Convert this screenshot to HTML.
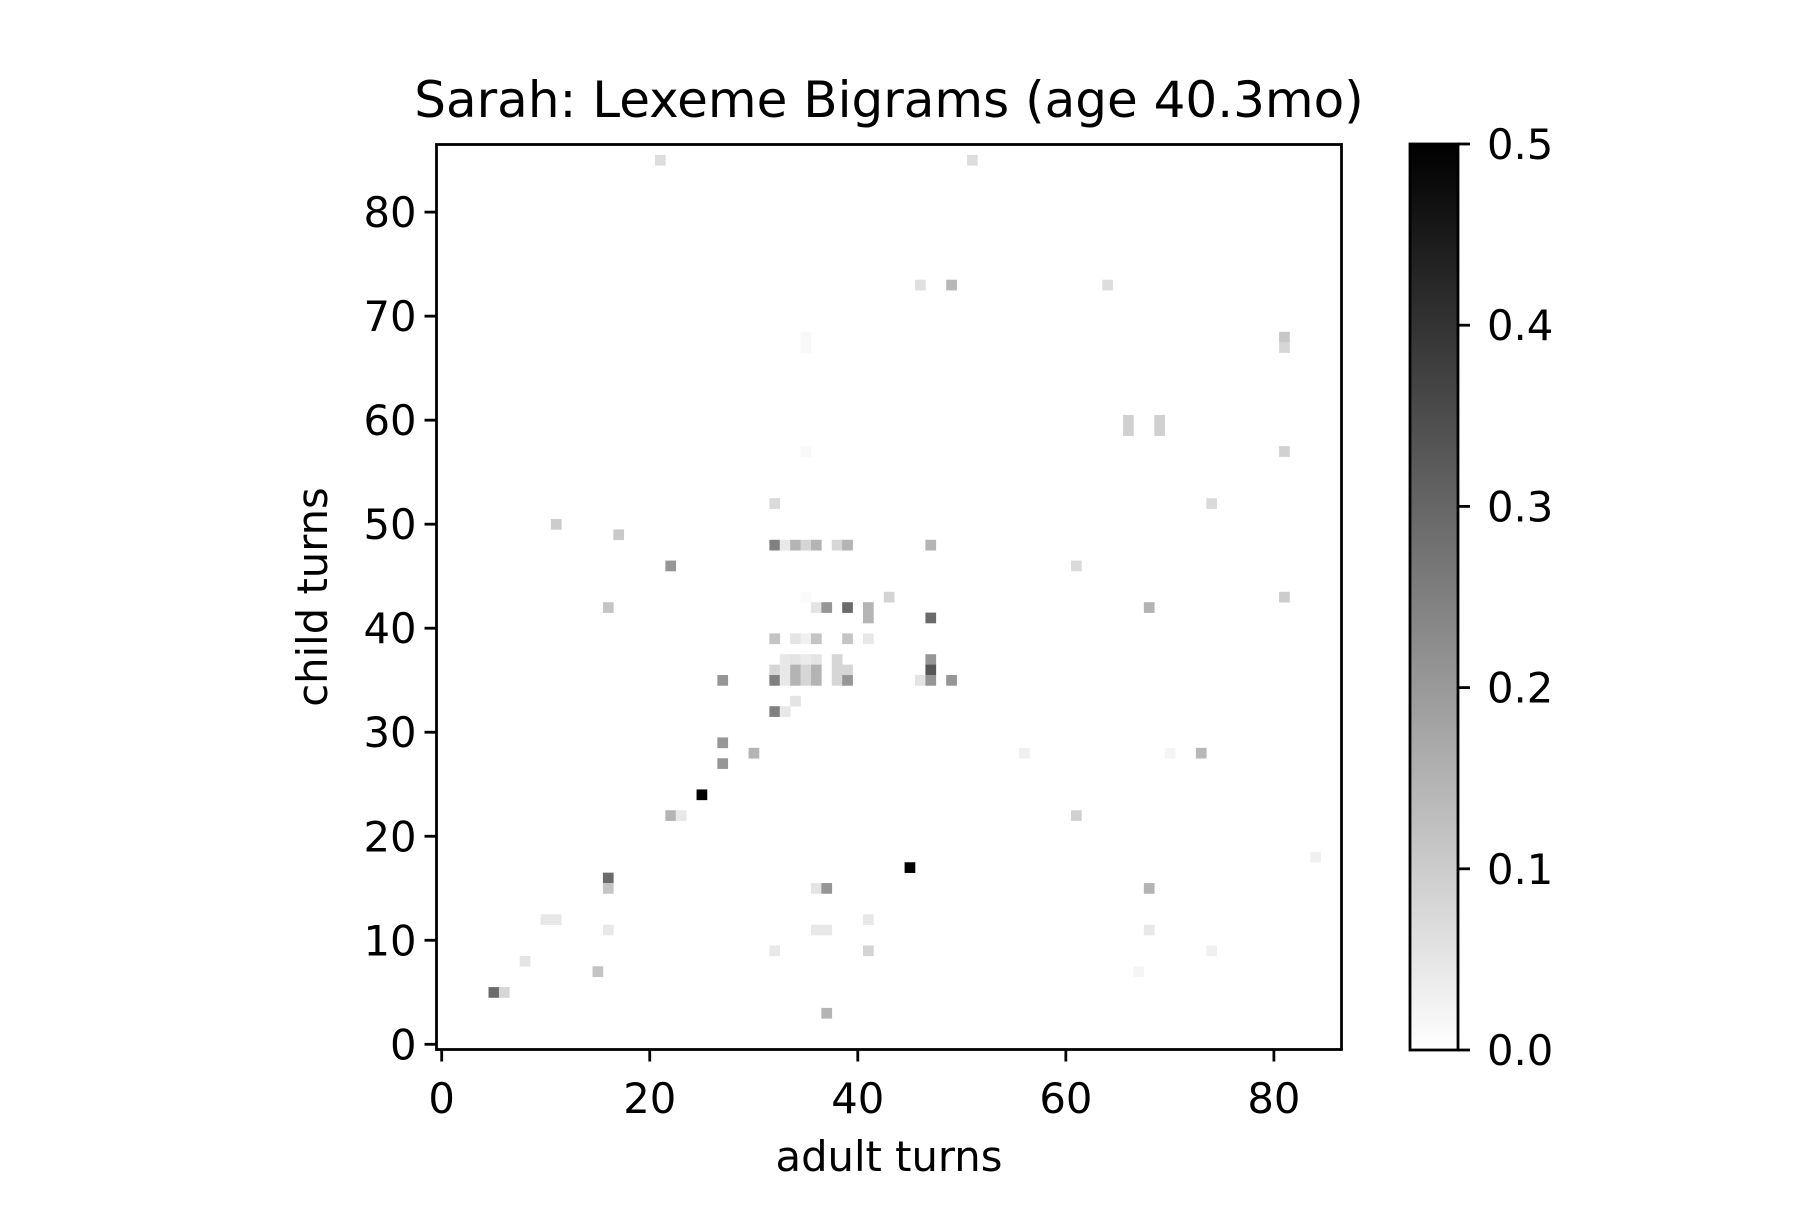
<!DOCTYPE html>
<html><head><meta charset="utf-8"><style>
html,body{margin:0;padding:0;background:#fff;}
svg text{font-family:"DejaVu Sans","Liberation Sans",sans-serif;fill:#000;}
</style></head><body>
<svg id="chart" width="1800" height="1200" viewBox="0 0 1800 1200" xmlns="http://www.w3.org/2000/svg">
<defs><linearGradient id="cbg" x1="0" y1="1" x2="0" y2="0"><stop offset="0" stop-color="#fff"/><stop offset="1" stop-color="#000"/></linearGradient></defs>
<rect x="0" y="0" width="1800" height="1200" fill="#fff"/>
<g id="cells"></g>
<g id="axes"></g>
<text x="889" y="117" font-size="50" text-anchor="middle">Sarah: Lexeme Bigrams (age 40.3mo)</text>
<text x="889" y="1171" font-size="41.7" text-anchor="middle">adult turns</text>
<text x="0" y="0" font-size="41.7" text-anchor="middle" transform="translate(327,597) rotate(-90)">child turns</text>
<rect x="1410" y="144" width="48" height="906" fill="url(#cbg)"/>
<rect x="1410" y="144" width="48" height="906" fill="none" stroke="#000" stroke-width="2.8"/>
<g id="cbticks"></g>
</svg>
<script>
const cellX = [21,51,46,49,64,35,35,81,81,66,66,69,69,35,81,74,32,11,17,32,33,34,35,36,38,39,47,22,61,35,43,81,16,36,37,39,41,68,41,47,32,34,35,36,39,41,33,34,35,36,38,47,32,33,34,35,36,38,39,47,27,32,33,34,35,36,38,39,46,47,49,34,32,33,27,30,56,70,73,27,25,22,23,61,84,45,16,16,36,37,68,10,11,41,16,36,37,68,32,41,74,8,15,67,5,6,37];
const cellY = [85,85,73,73,73,68,67,68,67,60,59,60,59,57,57,52,52,50,49,48,48,48,48,48,48,48,48,46,46,43,43,43,42,42,42,42,42,42,41,41,39,39,39,39,39,39,37,37,37,37,37,37,36,36,36,36,36,36,36,36,35,35,35,35,35,35,35,35,35,35,35,33,32,32,29,28,28,28,28,27,24,22,22,22,18,17,16,15,15,15,15,12,12,12,11,11,11,11,9,9,9,8,7,7,5,5,3];
const cellV = [0.067,0.067,0.06,0.14,0.067,0.014,0.014,0.11,0.08,0.09,0.09,0.09,0.09,0.014,0.09,0.073,0.073,0.1,0.105,0.25,0.045,0.147,0.08,0.147,0.08,0.147,0.147,0.206,0.073,0.01,0.085,0.1,0.116,0.053,0.206,0.29,0.147,0.15,0.147,0.29,0.116,0.053,0.03,0.116,0.116,0.045,0.045,0.053,0.04,0.053,0.08,0.206,0.08,0.045,0.147,0.08,0.147,0.08,0.08,0.33,0.206,0.25,0.045,0.147,0.08,0.147,0.08,0.206,0.053,0.206,0.206,0.053,0.25,0.045,0.206,0.147,0.03,0.02,0.14,0.206,0.5,0.147,0.045,0.09,0.03,0.5,0.29,0.116,0.053,0.206,0.147,0.045,0.045,0.045,0.045,0.045,0.045,0.045,0.045,0.085,0.03,0.053,0.116,0.02,0.29,0.08,0.147];
const xTicks = [0,20,40,60,80];
const yTicks = [0,10,20,30,40,50,60,70,80];
const cbTicks = [0.0,0.1,0.2,0.3,0.4,0.5];
const cbLabels = ["0.0","0.1","0.2","0.3","0.4","0.5"];
const NS='http://www.w3.org/2000/svg';
const L=436.5,R=1341.5,T=144.5,B=1049.5,N=87,cs=(R-L)/N,VMAX=0.5;
const xs=v=>L+(v+0.5)*cs, ys=v=>B-(v+0.5)*cs;
const cbY=v=>1050-(v/VMAX)*906;
function mk(t,a,p){const e=document.createElementNS(NS,t);for(const k in a)e.setAttribute(k,a[k]);p.appendChild(e);return e;}
const cg=document.getElementById('cells');
for(let i=0;i<cellX.length;i++){
  const g=Math.round(255*(1-Math.min(cellV[i],VMAX)/VMAX));
  const r=mk('rect',{x:xs(cellX[i])-cs/2,y:ys(cellY[i])-cs/2,width:cs+0.3,height:cs+0.3,fill:`rgb(${g},${g},${g})`},cg);
  
  
}
const ax=document.getElementById('axes');
const fr=mk('rect',{x:L,y:T,width:R-L,height:B-T,fill:'none',stroke:'#000','stroke-width':2.8},ax);


xTicks.forEach(v=>{
  const x=xs(v);
  const l=mk('line',{x1:x,x2:x,y1:B,y2:B+12,stroke:'#000','stroke-width':2.8},ax);
  
  
  const t=mk('text',{x:x,y:1113,'font-size':41.7,'text-anchor':'middle'},ax);t.textContent=v;
  
  
});
yTicks.forEach(v=>{
  const y=ys(v);
  const l=mk('line',{x1:L-12,x2:L,y1:y,y2:y,stroke:'#000','stroke-width':2.8},ax);
  
  
  const t=mk('text',{x:L-20,y:y+15,'font-size':41.7,'text-anchor':'end'},ax);t.textContent=v;
  
  
});
const cb=document.getElementById('cbticks');
cbTicks.forEach((v,i)=>{
  const y=cbY(v);
  const l=mk('line',{x1:1458,x2:1470,y1:y,y2:y,stroke:'#000','stroke-width':2.8},cb);
  
  
  const t=mk('text',{x:1487,y:y+15,'font-size':41.7},cb);t.textContent=cbLabels[i];
  
  
});
</script>
</body></html>
